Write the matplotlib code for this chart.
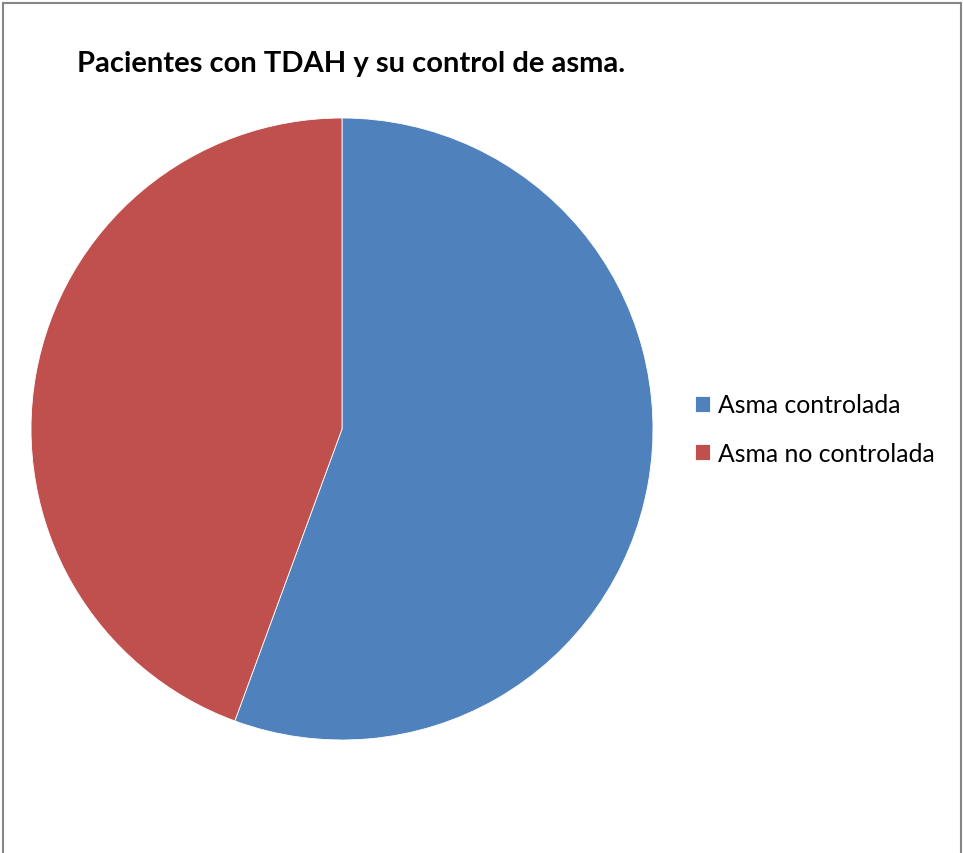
import matplotlib.pyplot as plt
from matplotlib.patches import Rectangle

categories = ["Asma controlada", "Asma no controlada"]
values = [55.6, 44.4]
colors = ["#4F81BD", "#C0504D"]

W, H = 963, 854
fig = plt.figure(figsize=(W / 100, H / 100), dpi=100)
fig.patch.set_facecolor("white")

# outer frame like the spreadsheet chart area
fig.add_artist(Rectangle((2.5 / W, -0.01), (958.5) / W, (H - 3.5) / H + 0.01,
                         transform=fig.transFigure, fill=False,
                         edgecolor="#868686", linewidth=1.5))

ax = fig.add_axes([31 / W, (H - 741) / H, 622 / W, 622 / H])
wedges, _ = ax.pie(values, colors=colors, startangle=90, counterclock=False,
                   radius=1.0, wedgeprops=dict(edgecolor="white", linewidth=0.6))
ax.set_xlim(-1, 1)
ax.set_ylim(-1, 1)
ax.set_aspect("equal")
ax.axis("off")

fig.text(77 / W, 1 - 64 / H, "Pacientes con TDAH y su control de asma.",
         fontsize=21, fontweight="bold", family=["Lato", "DejaVu Sans"],
         ha="left", va="center", color="black")

leg = fig.legend(wedges, categories, loc="center left",
                 bbox_to_anchor=(673 / W, 1 - 430 / H),
                 frameon=False, handlelength=0.6, handleheight=0.6,
                 handletextpad=0.3, labelspacing=1.02,
                 prop=dict(family=["Lato", "DejaVu Sans"], size=17.8))

fig.savefig("out.png", dpi=100, facecolor="white")
